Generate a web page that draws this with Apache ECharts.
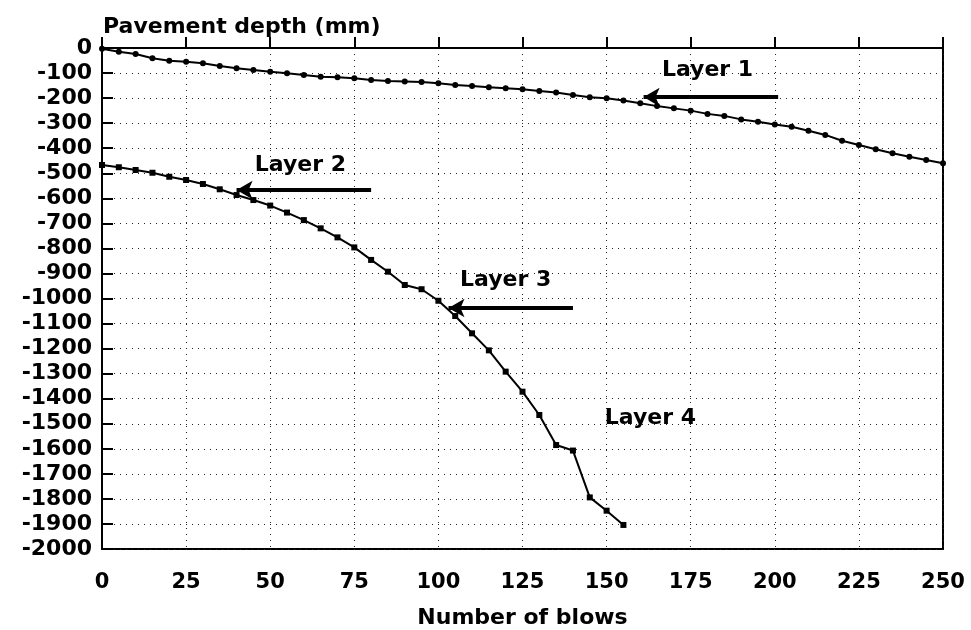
<!DOCTYPE html>
<html>
<head>
<meta charset="utf-8">
<script src="https://cdn.jsdelivr.net/npm/echarts@6/dist/echarts.min.js"></script>
<style>
html,body{margin:0;padding:0;background:#fff;}
#chart{width:971px;height:630px;}
</style>
</head>
<body>
<div id="chart"></div>
<script>
// ---- data ----
var blows1 = [0,5,10,15,20,25,30,35,40,45,50,55,60,65,70,75,80,85,90,95,100,105,110,115,120,125,130,135,140,145,150,155,160,165,170,175,180,185,190,195,200,205,210,215,220,225,230,235,240,245,250];
var depth1 = [-3,-15,-24,-41,-51,-55,-61,-72,-81,-88,-95,-101,-108,-115,-117,-121,-128,-132,-134,-136,-141,-148,-152,-157,-161,-165,-172,-178,-188,-197,-201,-210,-221,-232,-241,-250,-263,-271,-285,-294,-305,-314,-330,-347,-370,-387,-404,-420,-434,-447,-460];
var blows2 = [0,5,10,15,20,25,30,35,40,45,50,55,60,65,70,75,80,85,90,95,100,105,110,115,120,125,130,135,140,145,150,155];
var depth2 = [-467,-476,-487,-498,-514,-527,-543,-564,-587,-607,-629,-657,-687,-720,-756,-796,-846,-893,-946,-963,-1009,-1070,-1139,-1207,-1292,-1372,-1465,-1585,-1607,-1794,-1847,-1904];
var xTicks = [0,25,50,75,100,125,150,175,200,225,250];
var layerNames = ['Layer 1','Layer 2','Layer 3','Layer 4'];
var labelAt = [[180,-88],[59,-467],[120,-926],[163,-1477]];
var arrowFrom = [[201,-196],[80,-567],[140,-1038]];
var arrowTo = [[161,-196],[40,-567],[103,-1038]];

var FONT = 'DejaVu Sans';
function pairs(xs, ys){ return xs.map(function(x,i){ return [x, ys[i]]; }); }

var chart = echarts.init(document.getElementById('chart'));
var option = {
  animation: false,
  backgroundColor: '#fff',
  title: {
    text: 'Pavement depth (mm)',
    left: 98, top: 11,
    textStyle: {fontFamily: FONT, fontWeight: 'bold', fontSize: 22, color: '#000'}
  },
  grid: {left: 102, right: 28, top: 48, bottom: 81, outerBoundsMode: 'none', containLabel: false,
    show: true, borderColor: '#000', borderWidth: 2, backgroundColor: 'transparent'},
  xAxis: {
    type: 'value', min: 0, max: 250, interval: 25,
    name: 'Number of blows', nameLocation: 'middle', nameGap: 58,
    nameTextStyle: {fontFamily: FONT, fontWeight: 'bold', fontSize: 22, color: '#000'},
    axisLine: {show: true, lineStyle: {color: '#000', width: 2}},
    axisTick: {show: true, inside: true, length: 11, lineStyle: {color: '#000', width: 2}},
    axisLabel: {fontFamily: FONT, fontWeight: 'bold', fontSize: 21, color: '#000', margin: 23,
      formatter: function(v){ return xTicks.indexOf(v) >= 0 ? String(v) : ''; }},
    splitLine: {show: true, lineStyle: {color: '#222', width: 1, type: [1, 5]}}
  },
  yAxis: {
    type: 'value', min: -2000, max: 0, interval: 100,
    axisLine: {show: true, lineStyle: {color: '#000', width: 2}},
    axisTick: {show: true, inside: true, length: 11, lineStyle: {color: '#000', width: 2}},
    axisLabel: {fontFamily: FONT, fontWeight: 'bold', fontSize: 22, color: '#000', margin: 10,
      formatter: function(v){ return v === 0 ? '0' : '-' + Math.abs(v); }},
    splitLine: {show: true, lineStyle: {color: '#222', width: 1, type: [1, 5]}}
  },
  series: [
    {
      name: 'Layer 1', type: 'line', data: pairs(blows1, depth1),
      symbol: 'circle', symbolSize: 6, showSymbol: true,
      lineStyle: {color: '#000', width: 2}, itemStyle: {color: '#000'}
    },
    {
      name: 'Layers 2-4', type: 'line', data: pairs(blows2, depth2),
      symbol: 'rect', symbolSize: 6, showSymbol: true,
      lineStyle: {color: '#000', width: 2}, itemStyle: {color: '#000'}
    },
    {
      name: 'annotations', type: 'line', data: [],
      markLine: {
        silent: true, symbol: ['none', 'arrow'], symbolSize: [14, 16],
        lineStyle: {color: '#000', width: 4, type: 'solid'},
        label: {show: false},
        data: arrowFrom.map(function(f, i){ return [{coord: f}, {coord: arrowTo[i]}]; })
      },
      markPoint: {
        silent: true, symbol: 'circle', symbolSize: 0,
        label: {show: true, position: 'inside', fontFamily: FONT, fontWeight: 'bold', fontSize: 22, color: '#000',
          formatter: function(p){ return p.name; }},
        data: labelAt.map(function(c, i){ return {name: layerNames[i], coord: c}; })
      }
    }
  ]
};
chart.setOption(option);
</script>
</body>
</html>
